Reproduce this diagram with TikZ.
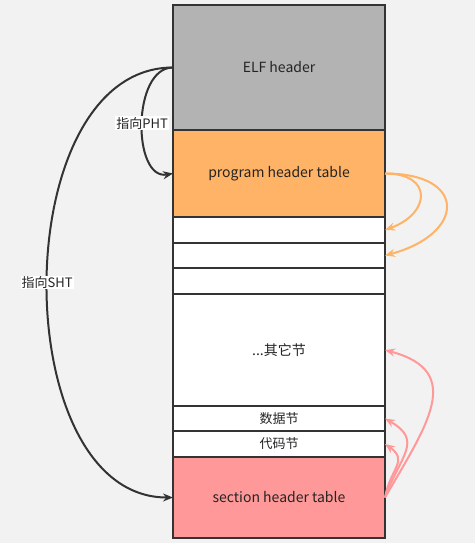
\documentclass[tikz,border=0pt]{standalone}
\usepackage{fontspec}
\setmainfont{Noto Sans CJK SC}
\usetikzlibrary{positioning,
                arrows.meta}                % arrow tips

\definecolor{bgcol}{HTML}{F2F2F2}
\definecolor{linecol}{HTML}{333333}
\definecolor{elfcol}{HTML}{B3B3B3}
\definecolor{phtcol}{HTML}{FFB366}
\definecolor{shtcol}{HTML}{FF9999}

\tikzset{
    seg/.style={draw=linecol, line width=2pt, fill=white, minimum width=212pt,
                inner sep=0pt, outer sep=0pt, text=linecol!70!black,
                font=\fontsize{13}{15}\selectfont},
    bigseg/.style={seg, font=\fontsize{14}{16}\selectfont},
    ptr/.style={line width=2pt, -{Stealth[length=10pt,width=8pt]}},
    lbl/.style={fill=white, inner sep=1pt, text=linecol!70!black,
                font=\fontsize{13}{15}\selectfont}
}

\begin{document}
\begin{tikzpicture}[x=1pt, y=-1pt]
        \fill[bgcol] (0,0) rectangle (475,543);
        \useasboundingbox (0,0) rectangle (475,543);

        % the file, top to bottom
        \node[bigseg, fill=elfcol, minimum height=125pt, anchor=north west] (elf) at (173,5) {ELF header};
        \node[bigseg, fill=phtcol, minimum height=87pt, below=0pt of elf] (pht) {program header table};
        \node[seg, minimum height=26pt, below=0pt of pht] (gapa) {};
        \node[seg, minimum height=25pt, below=0pt of gapa] (gapb) {};
        \node[seg, minimum height=26pt, below=0pt of gapb] (gapc) {};
        \node[bigseg, minimum height=112pt, below=0pt of gapc] (other) {...其它节};
        \node[seg, minimum height=25pt, below=0pt of other] (data) {数据节};
        \node[seg, minimum height=26pt, below=0pt of data] (code) {代码节};
        \node[bigseg, fill=shtcol, minimum height=81pt, below=0pt of code] (sht) {section header table};

        % pointers from the ELF header
        \draw[ptr, linecol] (elf.west) to[out=180, in=190]
              node[lbl, pos=0.5] (phtlbl) {指向PHT} (pht.west);
        \draw[ptr, linecol] (elf.west) to[out=180, in=180]
              node[lbl, pos=0.5] (shtlbl) {指向SHT} (sht.west);

        % program headers
        \draw[ptr, phtcol] (pht.east) to[out=0, in=20, looseness=2.2] (gapa.east);
        \draw[ptr, phtcol] (pht.east) to[out=0, in=15, looseness=2.6] (gapb.east);

        % section headers
        \draw[ptr, shtcol] (sht.east) to[out=60, in=-15, looseness=1.45] (other.east);
        \draw[ptr, shtcol] (sht.east) to[out=70, in=-30, looseness=1.45] (data.east);
        \draw[ptr, shtcol] (sht.east) to[out=80, in=-35, looseness=1.4] (code.east);
\end{tikzpicture}
\end{document}
